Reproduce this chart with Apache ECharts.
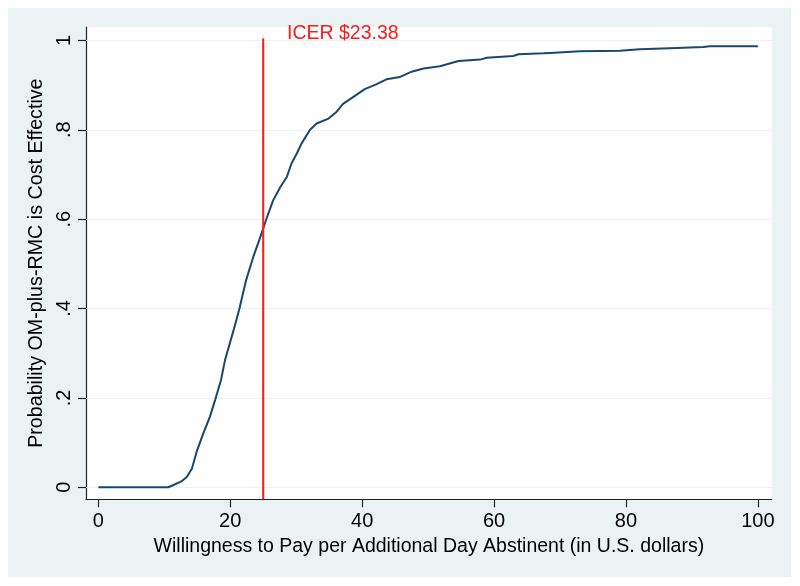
<!DOCTYPE html>
<html>
<head>
<meta charset="utf-8">
<script src="https://cdn.jsdelivr.net/npm/echarts@6/dist/echarts.min.js"></script>
<style>
html,body{margin:0;padding:0;background:#ffffff;}
#chart{width:800px;height:586px;}
</style>
</head>
<body>
<div id="chart"></div>
<script>
// Willingness to pay (x) and probability cost effective (y)
var wtp = [0, 5, 10, 10.6, 11.4, 12.6, 13.4, 14.2, 14.9, 15.9, 16.9, 17.7, 18.2, 18.6, 19.2, 20.5, 21.4, 22.4, 23.5, 24.4, 24.9, 25.4, 26.5, 27.6, 28.6, 29.3, 30.1, 30.8, 32.1, 33.1, 34.9, 36.1, 37.1, 38.9, 40.4, 42.2, 43.7, 45.7, 47.5, 49.3, 51.8, 54.6, 57.9, 58.9, 62.9, 63.7, 67.5, 68.5, 73.0, 79.1, 82.1, 87.7, 91.7, 92.7, 100];
var prob = [0, 0, 0, 0, 0.005, 0.013, 0.023, 0.042, 0.079, 0.12, 0.157, 0.195, 0.22, 0.24, 0.284, 0.351, 0.4, 0.463, 0.516, 0.553, 0.575, 0.597, 0.642, 0.672, 0.695, 0.725, 0.747, 0.769, 0.8, 0.814, 0.825, 0.84, 0.858, 0.876, 0.891, 0.902, 0.913, 0.918, 0.930, 0.937, 0.942, 0.954, 0.957, 0.961, 0.965, 0.969, 0.971, 0.972, 0.976, 0.977, 0.980, 0.983, 0.985, 0.987, 0.987];
var xTicks = [0, 20, 40, 60, 80, 100];
var yTicks = [0, 0.2, 0.4, 0.6, 0.8, 1];
var icerX = 25;
var icerYRange = [-0.027, 1.005];
var icerLabel = 'ICER $23.38';
var xTitle = 'Willingness to Pay per Additional Day Abstinent (in U.S. dollars)';
var yTitle = 'Probability OM-plus-RMC is Cost Effective';

var curve = wtp.map(function (w, i) { return [w, prob[i]]; });
var icerLine = icerYRange.map(function (y) { return [icerX, y]; });

function yFmt(v) {
  if (v === 0) return '0';
  if (v === 1) return '1';
  return String(+v.toFixed(1)).replace(/^0/, '');
}

var FONT = '"Liberation Sans", Arial, Helvetica, sans-serif';
var chart = echarts.init(document.getElementById('chart'), null, {renderer: 'canvas'});
chart.setOption({
  animation: false,
  backgroundColor: '#ffffff',
  graphic: [
    {type: 'rect', z: -10, shape: {x: 8, y: 8, width: 783, height: 569}, style: {fill: '#eaf2f3'}},
    {type: 'text', z: 100, left: 287, top: 24, style: {text: icerLabel, fill: '#ff1a1a', font: '19.5px ' + FONT}}
  ],
  grid: {left: 86, right: 28.3, top: 27, bottom: 86.7, show: true, backgroundColor: '#ffffff', borderWidth: 0},
  xAxis: {
    type: 'value', min: -1.87, max: 102.1,
    name: xTitle, nameLocation: 'middle', nameGap: 29,
    nameTextStyle: {fontFamily: FONT, fontSize: 19.5, color: '#000'},
    axisLine: {show: true, onZero: false, lineStyle: {color: '#222', width: 1.2}},
    axisTick: {show: true, length: 8, customValues: xTicks, lineStyle: {color: '#222', width: 1.2}},
    axisLabel: {customValues: xTicks, margin: 12, fontFamily: FONT, fontSize: 20, color: '#000'},
    splitLine: {show: false}
  },
  yAxis: {
    type: 'value', min: -0.027, max: 1.03,
    name: yTitle, nameLocation: 'middle', nameGap: 36, nameRotate: 90,
    nameTextStyle: {fontFamily: FONT, fontSize: 19.7, color: '#000'},
    axisLine: {show: true, onZero: false, lineStyle: {color: '#222', width: 1.2}},
    axisTick: {show: true, length: 8, customValues: yTicks, lineStyle: {color: '#222', width: 1.2}},
    axisLabel: {customValues: yTicks, rotate: 90, margin: 12, formatter: yFmt, fontFamily: FONT, fontSize: 20, color: '#000'},
    splitLine: {show: false}
  },
  series: [
    {
      type: 'line', data: curve, showSymbol: false, symbol: 'none', z: 3,
      lineStyle: {color: '#1a476f', width: 2},
      markLine: {
        silent: true, symbol: 'none', label: {show: false}, z: 1,
        lineStyle: {color: '#eaf2f3', width: 1.2, type: 'solid'},
        data: yTicks.map(function (v) { return {yAxis: v}; })
      }
    },
    {
      type: 'line', data: icerLine, showSymbol: false, symbol: 'none', z: 4,
      lineStyle: {color: '#ff1a1a', width: 2}
    }
  ]
});
</script>
</body>
</html>
